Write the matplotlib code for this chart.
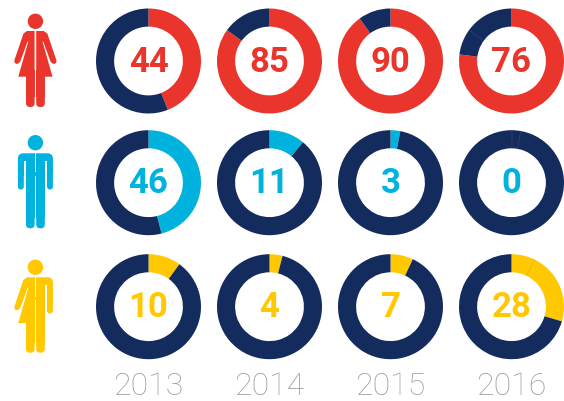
#!/usr/bin/env python3
# donuts per year and gender, with pictogram column on the left
import numpy as np
import matplotlib
matplotlib.use('Agg')
import matplotlib.pyplot as plt
from matplotlib.patches import Circle, Polygon, FancyBboxPatch, Rectangle

W, H = 564, 401

years = ['2013', '2014', '2015', '2016']
# printed numbers
female = [44, 85, 90, 76]
male = [46, 11, 3, 0]
trans = [10, 4, 7, 28]
# arc sizes as drawn, in percent of the ring (they differ a little from the label in 2016)
female_arc = [44, 85, 90, 77]
male_arc = [46, 11, 3, 0]
trans_arc = [10, 4, 7, 29.5]
# faint seams left in the 2016 rings, percent clockwise from the top
female_seams = [85]
male_seams = [0, 2.8]
trans_seams = [7.2]

NAVY = '#142b5e'
RED = '#ea352c'
BLUE = '#00b2de'
YELLOW = '#ffc800'
GREY = '#9e9e9e'

col_x = [148.5, 269.5, 390.5, 511.5]
row_y = [61, 182.7, 306.7]
R = 52.5
HOLE = 0.655

fig = plt.figure(figsize=(W / 100, H / 100), dpi=100)

def donut(cx, cy, label, arc, color, seams=(), seam_color='#3d4f7c'):
    ax = fig.add_axes([(cx - R - 1) / W, 1 - (cy + R + 1) / H, (2 * R + 2) / W, (2 * R + 2) / H])
    rad = R / (R + 1)
    ax.pie([arc, 100 - arc], colors=[color, NAVY], startangle=90, counterclock=False,
           radius=rad, wedgeprops=dict(width=(1 - HOLE) * rad, linewidth=0))
    for s in seams:
        a = np.deg2rad(s * 3.6)
        ax.plot([HOLE * rad * np.sin(a), rad * np.sin(a)], [HOLE * rad * np.cos(a), rad * np.cos(a)],
                color=seam_color, lw=0.35)
    ax.set_xlim(-1, 1)
    ax.set_ylim(-1, 1)
    ax.set_axis_off()
    fig.text(cx / W, 1 - (cy + 1) / H, str(label), color=color, ha='center', va='center',
             fontsize=25, fontweight='bold', family=['Roboto', 'DejaVu Sans'])

for i, x in enumerate(col_x):
    last = i == 3
    donut(x, row_y[0], female[i], female_arc[i], RED, female_seams if last else ())
    donut(x, row_y[1], male[i], male_arc[i], BLUE, male_seams if last else ())
    donut(x, row_y[2], trans[i], trans_arc[i], YELLOW, trans_seams if last else (), '#d9ad1c')

for x, y in zip(col_x, years):
    fig.text(x / W, 1 - 386.5 / H, y, color=GREY, ha='center', va='center', fontsize=23,
             fontweight='light', family=['Roboto', 'DejaVu Sans'])

# pictograms, drawn in pixel coordinates
pict = fig.add_axes([0, 0, 1, 1], zorder=5)
pict.set_xlim(0, W)
pict.set_ylim(H, 0)
pict.set_axis_off()
MID = 35.4

def rrect(x0, y0, x1, y1, r, color):
    pict.add_patch(FancyBboxPatch((x0 + r, y0 + r), x1 - x0 - 2 * r, y1 - y0 - 2 * r,
                                  boxstyle='round,pad=%g,rounding_size=%g' % (r, r), fc=color, ec='none'))

def white(x0, y0, x1, y1):
    pict.add_patch(Rectangle((x0, y0), x1 - x0, y1 - y0, fc='white', ec='none'))

def head(y, color):
    pict.add_patch(Circle((MID, y), 7.7, fc=color, ec='none'))

def legs(top, bottom, color):
    # square at the top, round at the foot
    for x0, x1 in [(26, 34.6), (36.2, 44.8)]:
        rrect(x0, bottom - 20, x1, bottom, 4, color)
        pict.add_patch(Rectangle((x0, top), x1 - x0, bottom - 10 - top, fc=color, ec='none'))

def skirt_half(dy, side, color):
    # side=-1 left, side=1 right; outline given for the woman at dy=0
    pts = [(34.6, 31), (27, 31), (23.5, 33.5), (14.3, 60.5), (14.6, 62.8), (16.5, 64), (18.5, 63.4), (20.3, 61.5),
           (27.6, 41.5), (28.3, 41.5), (18.3, 76.7), (34.6, 76.7)]
    if side > 0:
        pts = [(2 * MID - x, y) for x, y in pts]
    pict.add_patch(Polygon([(x, y + dy) for x, y in pts], fc=color, ec='none'))

def trouser_right(dy, color):
    # right half of the man's torso and arm at dy=0
    rrect(30, 153.3 + dy, 52.9, 176 + dy, 5.5, color)
    white(44.8, 161 + dy, 47, 177 + dy)
    rrect(47, 165 + dy, 52.9, 189.5 + dy, 2.9, color)

def trouser_left(dy, color):
    rrect(17.9, 153.3 + dy, 40, 176 + dy, 5.5, color)
    white(23.8, 161 + dy, 26, 177 + dy)
    rrect(17.9, 165 + dy, 23.8, 189.5 + dy, 2.9, color)

# woman
head(21.3, RED)
skirt_half(0, -1, RED)
skirt_half(0, 1, RED)
legs(70, 107, RED)
white(34.6, 30, 36.2, 76.7)

# man
head(142.7, BLUE)
trouser_left(0, BLUE)
trouser_right(0, BLUE)
legs(170, 228.3, BLUE)
white(34.6, 153, 36.2, 172)

# mixed figure: skirt on the left half, trouser arm on the right
head(267.3, YELLOW)
trouser_right(124, YELLOW)
skirt_half(246.3, -1, YELLOW)
legs(295, 352.7, YELLOW)
white(34.6, 276, 36.2, 297)

fig.savefig('out.png', dpi=100)
